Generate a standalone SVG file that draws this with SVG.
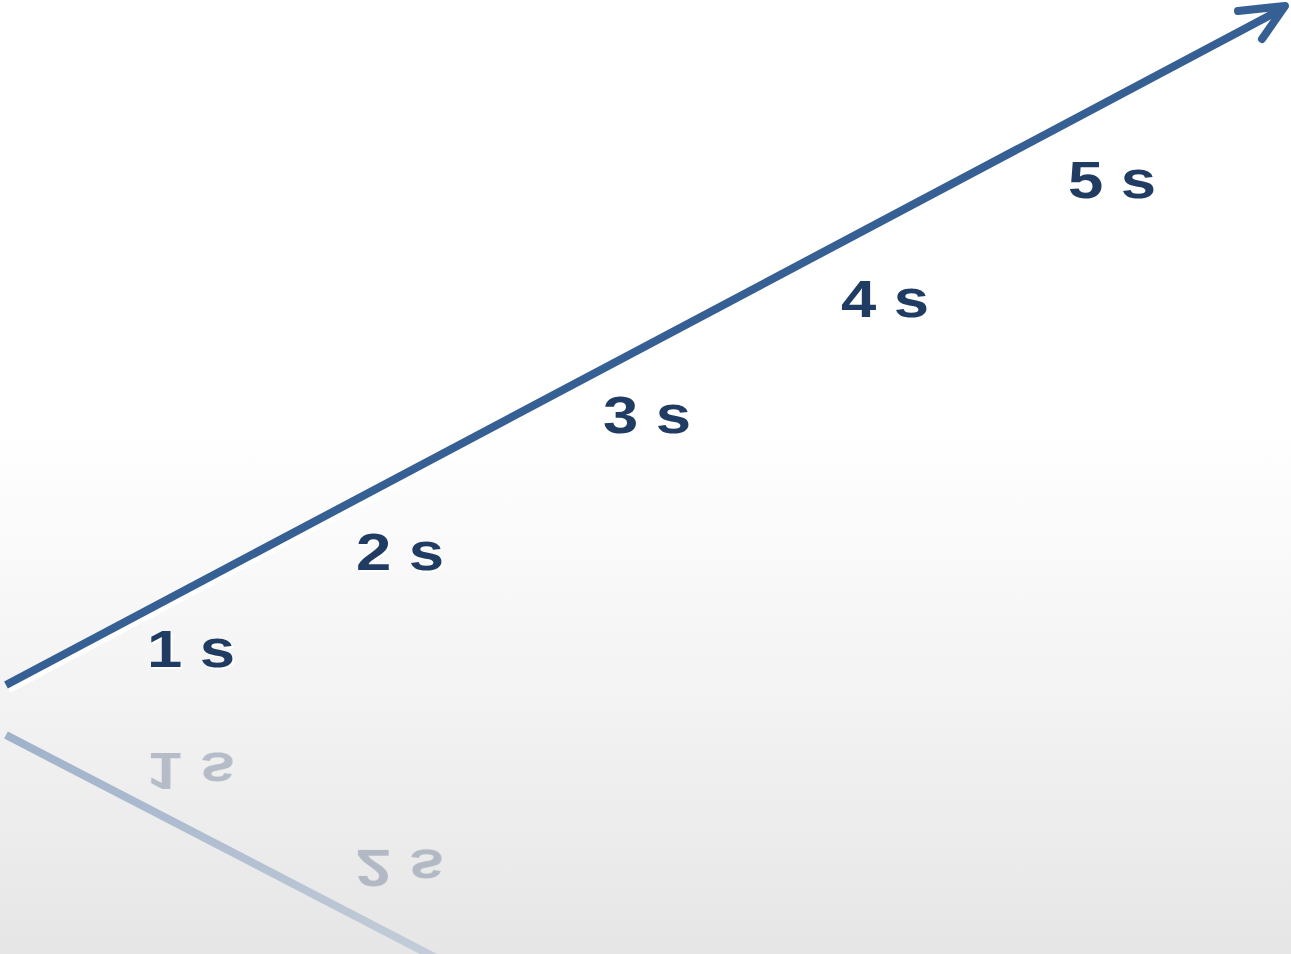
<svg xmlns="http://www.w3.org/2000/svg" width="1291" height="954" viewBox="0 0 1291 954">
<defs>
<linearGradient id="bg" x1="0" y1="0" x2="0" y2="1">
<stop offset="0" stop-color="#ffffff"/>
<stop offset="0.45" stop-color="#ffffff"/>
<stop offset="0.75" stop-color="#f2f2f2"/>
<stop offset="1" stop-color="#e6e6e6"/>
</linearGradient>
<linearGradient id="refl" gradientUnits="userSpaceOnUse" x1="0" y1="735" x2="0" y2="954">
<stop offset="0" stop-color="#9fb2ca"/>
<stop offset="1" stop-color="#c3ccd8"/>
</linearGradient>
<style>
.lbl{font-family:"Liberation Sans",Arial,sans-serif;font-weight:bold;font-size:52px;text-anchor:middle;fill:#203c62}
.sh{fill:#ffffff}
.axis{stroke:#365f93;stroke-width:8;fill:none}
.axsh{stroke:#ffffff;stroke-width:6;fill:none}
</style>
</defs>
<rect width="1291" height="954" fill="url(#bg)"/>
<g id="reflection">
<line x1="6" y1="735" x2="440" y2="960" stroke="url(#refl)" stroke-width="8"/>
<g transform="translate(0,1420) scale(1,-1)" opacity="0.28">
<text class="lbl" transform="translate(191,667) scale(1.22,1)">1 s</text>
<text class="lbl" transform="translate(400,570) scale(1.22,1)">2 s</text>
</g>
</g>
<g id="connectors">
<line x1="9" y1="690" x2="1285" y2="14" class="axsh"/>
<line x1="6" y1="685" x2="1282" y2="9" class="axis"/>
<path d="M1238,11 L1285,6 L1262,39" class="axis" stroke-width="9" stroke-linecap="round" stroke-linejoin="round"/>
</g>
<g id="label-1s">
<text class="lbl sh" transform="translate(193,669) scale(1.22,1)">1 s</text>
<text class="lbl" transform="translate(191,667) scale(1.22,1)">1 s</text>
</g>
<g id="label-2s">
<text class="lbl sh" transform="translate(402,572) scale(1.22,1)">2 s</text>
<text class="lbl" transform="translate(400,570) scale(1.22,1)">2 s</text>
</g>
<g id="label-3s">
<text class="lbl sh" transform="translate(649,435) scale(1.22,1)">3 s</text>
<text class="lbl" transform="translate(647,433) scale(1.22,1)">3 s</text>
</g>
<g id="label-4s">
<text class="lbl sh" transform="translate(887,319) scale(1.22,1)">4 s</text>
<text class="lbl" transform="translate(885,317) scale(1.22,1)">4 s</text>
</g>
<g id="label-5s">
<text class="lbl sh" transform="translate(1114,200) scale(1.22,1)">5 s</text>
<text class="lbl" transform="translate(1112,198) scale(1.22,1)">5 s</text>
</g>
</svg>
